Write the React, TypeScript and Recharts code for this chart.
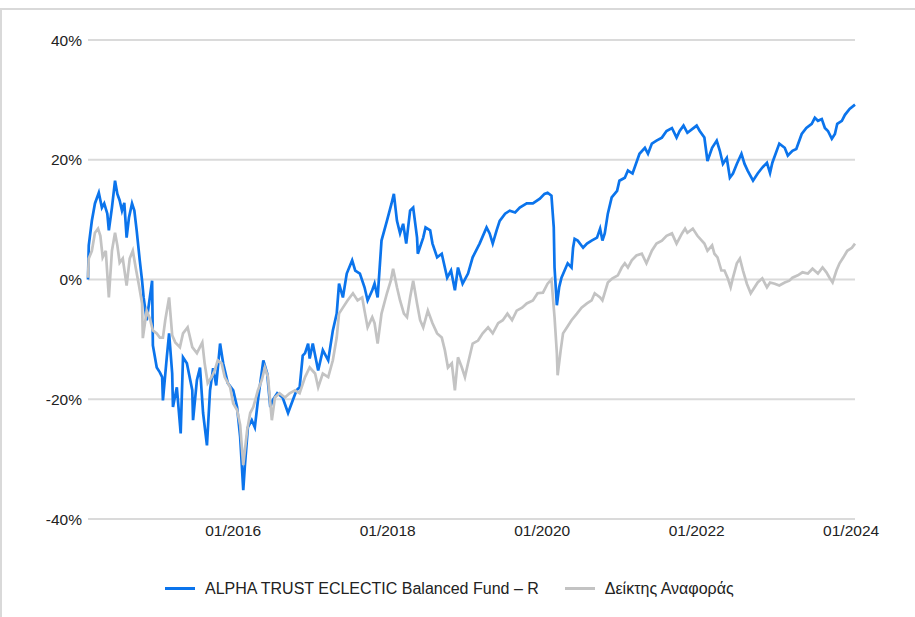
import React from 'react'
import { LineChart, Line, XAxis, YAxis, CartesianGrid } from 'recharts'

// dates as decimal years, values in % return
const fundDates = [
  2014.12, 2014.13, 2014.17, 2014.21, 2014.26, 2014.3, 2014.33, 2014.37, 2014.39, 2014.43,
  2014.47, 2014.5, 2014.53, 2014.56, 2014.59, 2014.62, 2014.65, 2014.69, 2014.72, 2014.75,
  2014.79, 2014.82, 2014.84, 2014.88, 2014.91, 2014.95, 2014.96, 2015.01, 2015.05, 2015.08,
  2015.09, 2015.14, 2015.17, 2015.21, 2015.22, 2015.27, 2015.32, 2015.35, 2015.4, 2015.47,
  2015.48, 2015.53, 2015.57, 2015.61, 2015.66, 2015.7, 2015.74, 2015.78, 2015.83, 2015.87,
  2015.93, 2016.0, 2016.05, 2016.09, 2016.13, 2016.15, 2016.19, 2016.24, 2016.28, 2016.32,
  2016.39, 2016.44, 2016.48, 2016.51, 2016.57, 2016.64, 2016.71, 2016.77, 2016.82, 2016.86,
  2016.9, 2016.93, 2016.97, 2016.99, 2017.03, 2017.1, 2017.16, 2017.23, 2017.29, 2017.34,
  2017.37, 2017.42, 2017.47, 2017.54, 2017.58, 2017.64, 2017.7, 2017.74, 2017.8, 2017.83,
  2017.87, 2017.92, 2017.99, 2018.05, 2018.08, 2018.12, 2018.16, 2018.2, 2018.24, 2018.29,
  2018.33, 2018.38, 2018.39, 2018.46, 2018.49, 2018.55, 2018.58, 2018.64, 2018.7, 2018.77,
  2018.82, 2018.87, 2018.91, 2018.97, 2019.04, 2019.1, 2019.19, 2019.28, 2019.32, 2019.36,
  2019.41, 2019.45, 2019.52, 2019.58, 2019.65, 2019.71, 2019.8, 2019.88, 2019.97, 2020.03,
  2020.07, 2020.12, 2020.15, 2020.16, 2020.19, 2020.22, 2020.25, 2020.29, 2020.33, 2020.38,
  2020.4, 2020.42, 2020.46, 2020.53, 2020.58, 2020.64, 2020.71, 2020.75, 2020.78, 2020.81,
  2020.85, 2020.9, 2020.97, 2021.0, 2021.07, 2021.11, 2021.17, 2021.26, 2021.33, 2021.37,
  2021.42, 2021.48, 2021.55, 2021.61, 2021.68, 2021.74, 2021.78, 2021.83, 2021.88, 2021.95,
  2022.0, 2022.04, 2022.1, 2022.14, 2022.2, 2022.26, 2022.3, 2022.34, 2022.39, 2022.43,
  2022.47, 2022.52, 2022.58, 2022.62, 2022.66, 2022.73, 2022.79, 2022.85, 2022.91, 2022.95,
  2022.98, 2023.07, 2023.14, 2023.18, 2023.24, 2023.29, 2023.36, 2023.42, 2023.49, 2023.53,
  2023.57, 2023.62, 2023.66, 2023.7, 2023.75, 2023.79, 2023.82, 2023.88, 2023.92, 2023.98,
  2024.05,
]
const fundValues = [
  0, 5.7, 9.8, 12.7, 14.5, 12.0, 12.7, 11.0, 8.2, 12.0,
  16.5, 14.3, 13.2, 11.5, 12.8, 7.0, 10.3, 12.7, 11.5, 8.2,
  3.2, -0.2, -3.0, -6.8, -4.0, -0.2, -11.0, -14.7, -15.5, -16.3,
  -20.2, -13.0, -9.0, -15.7, -21.3, -18.0, -25.7, -13.0, -14.0, -18.5,
  -23.5, -16.8, -14.7, -22.3, -27.7, -18.5, -14.8, -17.7, -10.7, -14.0,
  -17.3, -18.5, -21.3, -26.3, -35.2, -31.3, -24.7, -23.5, -24.7, -20.2,
  -13.5, -15.7, -21.3, -20.2, -19.0, -19.7, -22.3, -20.2, -18.5, -18.0,
  -12.7, -12.3, -10.7, -13.2, -10.7, -15.2, -11.8, -13.5, -8.5, -5.7,
  -0.7, -3.0, 1.0, 3.2, 1.5, 1.0, -1.3, -3.5, -1.8, -0.7,
  -3.0, 6.5, 9.8, 12.7, 14.3, 9.8, 7.7, 9.3, 6.0, 11.5,
  12.0, 7.0, 4.3, 7.0, 8.7, 8.2, 6.0, 3.7, 4.3, 0.3,
  1.5, -1.8, 2.0, -0.7, 1.0, 3.7, 6.0, 8.7, 7.7, 6.0,
  8.2, 9.8, 11.0, 11.5, 11.2, 12.0, 12.7, 12.7, 13.5, 14.3,
  14.5, 14.0, 8.7, 2.0, -4.3, -1.3, 0.3, 1.5, 2.7, 2.0,
  5.3, 6.8, 6.5, 5.3, 6.0, 6.5, 7.0, 8.5, 6.5, 7.7,
  11.0, 13.7, 14.8, 16.5, 17.0, 18.2, 17.7, 21.0, 22.0, 21.0,
  22.7, 23.2, 23.7, 24.8, 25.3, 23.7, 24.8, 25.7, 24.5, 25.2,
  25.7, 24.8, 23.7, 19.8, 22.0, 23.2, 21.5, 19.3, 20.3, 17.0,
  17.7, 19.3, 21.0, 19.3, 18.2, 16.5, 17.7, 18.7, 19.5, 17.8,
  19.5, 22.7, 22.0, 20.7, 21.5, 21.8, 24.3, 25.3, 26.0, 27.0,
  26.5, 26.8, 25.3, 24.8, 23.5, 24.3, 26.0, 26.5, 27.5, 28.5,
  29.2,
]

const indexDates = [
  2014.12, 2014.13, 2014.17, 2014.21, 2014.25, 2014.28, 2014.31, 2014.35, 2014.39, 2014.43,
  2014.47, 2014.5, 2014.53, 2014.57, 2014.62, 2014.66, 2014.7, 2014.74, 2014.78, 2014.82,
  2014.83, 2014.88, 2014.92, 2014.96, 2015.01, 2015.05, 2015.09, 2015.12, 2015.17, 2015.21,
  2015.25, 2015.31, 2015.35, 2015.41, 2015.47, 2015.53, 2015.6, 2015.63, 2015.67, 2015.72,
  2015.76, 2015.8, 2015.85, 2015.89, 2015.96, 2016.0, 2016.05, 2016.09, 2016.13, 2016.18,
  2016.22, 2016.26, 2016.32, 2016.37, 2016.41, 2016.45, 2016.5, 2016.54, 2016.6, 2016.67,
  2016.73, 2016.8, 2016.86, 2016.93, 2016.99, 2017.06, 2017.1, 2017.16, 2017.23, 2017.29,
  2017.34, 2017.37, 2017.42, 2017.48, 2017.55, 2017.61, 2017.67, 2017.7, 2017.74, 2017.8,
  2017.83, 2017.87, 2017.92, 2017.99, 2018.04, 2018.07, 2018.12, 2018.16, 2018.21, 2018.25,
  2018.29, 2018.33, 2018.38, 2018.42, 2018.46, 2018.52, 2018.58, 2018.64, 2018.7, 2018.74,
  2018.78, 2018.83, 2018.87, 2018.91, 2018.96, 2019.0, 2019.04, 2019.1, 2019.17, 2019.23,
  2019.3, 2019.36, 2019.43, 2019.49, 2019.55, 2019.61, 2019.67, 2019.74, 2019.8, 2019.88,
  2019.94, 2020.01, 2020.07, 2020.12, 2020.16, 2020.19, 2020.2, 2020.24, 2020.27, 2020.32,
  2020.38, 2020.45, 2020.51, 2020.58, 2020.64, 2020.68, 2020.75, 2020.78, 2020.85, 2020.91,
  2020.98, 2021.03, 2021.07, 2021.11, 2021.16, 2021.22, 2021.29, 2021.35, 2021.42, 2021.48,
  2021.55, 2021.61, 2021.68, 2021.74, 2021.81, 2021.85, 2021.88, 2021.95, 2022.01, 2022.1,
  2022.14, 2022.2, 2022.23, 2022.27, 2022.32, 2022.36, 2022.4, 2022.44, 2022.47, 2022.52,
  2022.56, 2022.6, 2022.65, 2022.7, 2022.74, 2022.79, 2022.85, 2022.91, 2022.95, 2023.01,
  2023.07, 2023.14, 2023.2, 2023.24, 2023.31, 2023.37, 2023.44, 2023.5, 2023.57, 2023.63,
  2023.68, 2023.72, 2023.76, 2023.81, 2023.85, 2023.9, 2023.95, 2024.01, 2024.05,
]
const indexValues = [
  0.3, 3.5, 4.8, 7.8, 8.5, 7.3, 3.7, 4.8, -3.0, 4.8,
  7.8, 5.7, 2.8, 3.5, -1.0, 3.5, 4.8, 1.8, -1.0, -4.0,
  -9.8, -5.2, -6.5, -8.5, -9.0, -9.7, -9.7, -6.8, -3.0, -9.3,
  -10.5, -11.3, -9.0, -8.0, -11.3, -12.3, -10.5, -14.0, -17.3, -16.3,
  -15.2, -13.5, -14.0, -16.3, -18.0, -20.7, -21.8, -24.3, -31.0, -25.2,
  -22.3, -21.3, -18.5, -16.8, -14.7, -16.3, -23.5, -19.7, -19.0, -19.7,
  -19.0, -18.5, -19.0, -16.3, -14.7, -15.7, -18.0, -15.7, -16.3, -13.5,
  -9.7, -5.7, -4.7, -3.5, -2.3, -3.5, -3.0, -5.2, -8.0, -6.3,
  -7.3, -10.7, -5.7, -2.3, -0.2, 1.8, -1.3, -3.5, -5.7, -6.3,
  -3.0, -0.2, -4.0, -6.8, -8.0, -5.2, -7.3, -9.0, -9.7, -11.8,
  -14.7, -14.0, -18.5, -13.0, -14.7, -16.3, -14.0, -10.7, -10.2, -9.0,
  -8.0, -9.0, -7.3, -6.8, -5.7, -6.8, -5.2, -4.7, -4.0, -3.5,
  -2.3, -2.2, -0.7, 0.0, -6.3, -12.3, -16.0, -11.8, -9.0, -8.0,
  -6.8, -5.7, -4.7, -4.0, -3.5, -2.3, -3.0, -3.5, -0.5, 0.2,
  0.7, 2.0, 2.7, 2.0, 3.2, 4.0, 4.3, 2.7, 4.8, 6.0,
  6.5, 7.3, 7.7, 6.0, 7.7, 8.5, 7.8, 8.5, 7.3, 6.0,
  4.8, 5.7, 4.3, 3.7, 1.5, 1.5, 0.3, -1.3, 0.3, 2.7,
  3.5, 1.5, -0.7, -2.3, -1.5, -0.5, 0.2, -1.3, -0.5, -0.7,
  -1.0, -0.5, -0.2, 0.3, 0.7, 1.2, 1.0, 1.8, 1.0, 2.0,
  1.2, 0.3, -0.5, 1.5, 2.7, 3.7, 4.8, 5.3, 6.0,
]

const yTicks = [-40, -20, 0, 20, 40]
const xTicks = [2016, 2018, 2020, 2022, 2024]
const fundName = 'ALPHA TRUST ECLECTIC Balanced Fund – R'
const indexName = 'Δείκτης Αναφοράς'

const fundData = fundDates.map((t, i) => ({ t, v: fundValues[i] }))
const indexData = indexDates.map((t, i) => ({ t, v: indexValues[i] }))

const BLUE = '#0b74ec'
const GREY = '#c3c3c3'
const font = '"Liberation Sans", Arial, sans-serif'

function LegendItem({ color, label }: { color: string; label: string }) {
  return (
    <span style={{ display: 'inline-flex', alignItems: 'center', marginRight: 26 }}>
      <span style={{ display: 'inline-block', width: 30, height: 3, background: color, marginRight: 10 }} />
      <span>{label}</span>
    </span>
  )
}

export default function App() {
  return (
    <div style={{ position: 'absolute', left: 0, top: 0, width: 915, height: 617, overflow: 'hidden', background: '#fff', fontFamily: font }}>
      <div style={{ position: 'absolute', left: 0, top: 8, width: 940, height: 640, borderTop: '2px solid #d9d9d9', borderLeft: '2px solid #d9d9d9' }} />
      <LineChart width={915} height={617} margin={{ top: 40, right: 60, bottom: 68, left: 0 }}>
        <CartesianGrid vertical={false} stroke="#dadada" strokeWidth={2} />
        <XAxis
          dataKey="t"
          type="number"
          domain={[2014.12, 2024.05]}
          ticks={xTicks}
          tickFormatter={(y: number) => `01/${y}`}
          axisLine={false}
          tickLine={false}
          tickSize={0}
          tickMargin={6}
          height={30}
          tick={{ fill: '#222', fontSize: 15.5, fontFamily: font }}
        />
        <YAxis
          type="number"
          domain={[-40, 40]}
          ticks={yTicks}
          tickFormatter={(v: number) => `${v}%`}
          axisLine={false}
          tickLine={false}
          tickSize={4}
          tickMargin={2}
          width={88}
          tick={{ fill: '#222', fontSize: 15.5, fontFamily: font }}
        />
        <Line data={fundData} dataKey="v" name={fundName} stroke={BLUE} strokeWidth={2.7} dot={false} isAnimationActive={false} />
        <Line data={indexData} dataKey="v" name={indexName} stroke={GREY} strokeWidth={2.7} dot={false} isAnimationActive={false} />
      </LineChart>
      <div style={{ position: 'absolute', left: 165, top: 576, fontSize: 16, color: '#222', whiteSpace: 'nowrap' }}>
        <LegendItem color={BLUE} label={fundName} />
        <LegendItem color={GREY} label={indexName} />
      </div>
    </div>
  )
}
